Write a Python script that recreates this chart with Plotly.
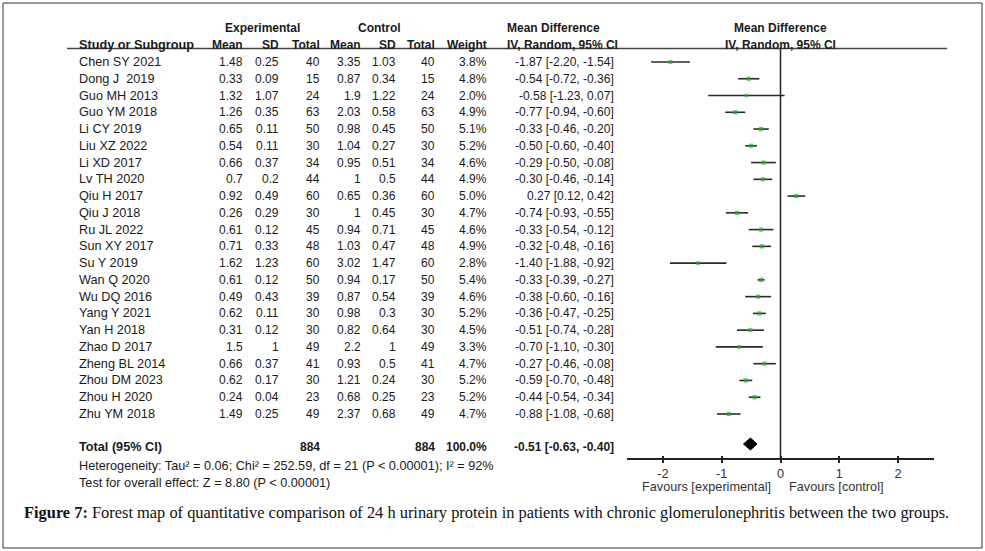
import plotly.graph_objects as go

# ---------------- data ----------------
studies = ["Chen SY 2021", "Dong J  2019", "Guo MH 2013", "Guo YM 2018", "Li CY 2019",
           "Liu XZ 2022", "Li XD 2017", "Lv TH 2020", "Qiu H 2017", "Qiu J 2018",
           "Ru JL 2022", "Sun XY 2017", "Su Y 2019", "Wan Q 2020", "Wu DQ 2016",
           "Yang Y 2021", "Yan H 2018", "Zhao D 2017", "Zheng BL 2014", "Zhou DM 2023",
           "Zhou H 2020", "Zhu YM 2018"]
exp_mean = [1.48, 0.33, 1.32, 1.26, 0.65, 0.54, 0.66, 0.7, 0.92, 0.26, 0.61, 0.71, 1.62,
            0.61, 0.49, 0.62, 0.31, 1.5, 0.66, 0.62, 0.24, 1.49]
exp_sd = [0.25, 0.09, 1.07, 0.35, 0.11, 0.11, 0.37, 0.2, 0.49, 0.29, 0.12, 0.33, 1.23,
          0.12, 0.43, 0.11, 0.12, 1, 0.37, 0.17, 0.04, 0.25]
exp_n = [40, 15, 24, 63, 50, 30, 34, 44, 60, 30, 45, 48, 60, 50, 39, 30, 30, 49, 41, 30, 23, 49]
ctrl_mean = [3.35, 0.87, 1.9, 2.03, 0.98, 1.04, 0.95, 1, 0.65, 1, 0.94, 1.03, 3.02,
             0.94, 0.87, 0.98, 0.82, 2.2, 0.93, 1.21, 0.68, 2.37]
ctrl_sd = [1.03, 0.34, 1.22, 0.58, 0.45, 0.27, 0.51, 0.5, 0.36, 0.45, 0.71, 0.47, 1.47,
           0.17, 0.54, 0.3, 0.64, 1, 0.5, 0.24, 0.25, 0.68]
ctrl_n = [40, 15, 24, 63, 50, 30, 34, 44, 60, 30, 45, 48, 60, 50, 39, 30, 30, 49, 41, 30, 23, 49]
weight = [3.8, 4.8, 2.0, 4.9, 5.1, 5.2, 4.6, 4.9, 5.0, 4.7, 4.6, 4.9, 2.8, 5.4, 4.6, 5.2,
          4.5, 3.3, 4.7, 5.2, 5.2, 4.7]
md = [-1.87, -0.54, -0.58, -0.77, -0.33, -0.50, -0.29, -0.30, 0.27, -0.74, -0.33, -0.32,
      -1.40, -0.33, -0.38, -0.36, -0.51, -0.70, -0.27, -0.59, -0.44, -0.88]
ci_lo = [-2.20, -0.72, -1.23, -0.94, -0.46, -0.60, -0.50, -0.46, 0.12, -0.93, -0.54, -0.48,
         -1.88, -0.39, -0.60, -0.47, -0.74, -1.10, -0.46, -0.70, -0.54, -1.08]
ci_hi = [-1.54, -0.36, 0.07, -0.60, -0.20, -0.40, -0.08, -0.14, 0.42, -0.55, -0.12, -0.16,
         -0.92, -0.27, -0.16, -0.25, -0.28, -0.30, -0.08, -0.48, -0.34, -0.68]
total_exp_n = 884
total_ctrl_n = 884
total_weight = 100.0
total_md, total_lo, total_hi = -0.51, -0.63, -0.40
heterogeneity = "Heterogeneity: Tau² = 0.06; Chi² = 252.59, df = 21 (P < 0.00001); I² = 92%"
overall = "Test for overall effect: Z = 8.80 (P < 0.00001)"
tick_vals = [-2, -1, 0, 1, 2]
tick_text = ["-2", "-1", "0", "1", "2"]
caption_bold = "Figure 7:"
caption_rest = (" Forest map of quantitative comparison of 24 h urinary protein in patients "
                "with chronic glomerulonephritis between the two groups.")

# ---------------- layout helpers ----------------
W, H = 985, 551
ROW0, ROWH = 62.0, 16.76          # pixel of first row, row height


def px_x(p):
    return p / W


def px_y(p):
    return 1 - p / H


def row_of(p):
    return (p - ROW0) / ROWH


FONT = "Liberation Sans, Arial, sans-serif"
TXT = "#1a1a1a"
FS = 12
FS_L = 12.7

fig = go.Figure()

n = len(studies)
rows = list(range(n))

# CI lines
lx, ly = [], []
for i in rows:
    lx += [ci_lo[i], ci_hi[i], None]
    ly += [i, i, None]
fig.add_trace(go.Scatter(x=lx, y=ly, mode="lines", line=dict(color="#2a2a2a", width=1.6),
                         hoverinfo="skip", showlegend=False))
# study squares
fig.add_trace(go.Scatter(x=md, y=rows, mode="markers",
                         marker=dict(symbol="square", size=[3 + w * 0.25 for w in weight],
                                     color="#1fb02a", line=dict(width=0)),
                         hoverinfo="skip", showlegend=False))
# total diamond
trow = row_of(444)
dh = 0.36
fig.add_trace(go.Scatter(x=[total_lo, total_md, total_hi, total_md, total_lo],
                         y=[trow, trow - dh, trow, trow + dh, trow],
                         mode="lines", fill="toself", fillcolor="black",
                         line=dict(color="black", width=1), hoverinfo="skip", showlegend=False))
# invisible trace on overlay axis (for crossing tick marks)
fig.add_trace(go.Scatter(x=[0], y=[0], xaxis="x2", mode="markers", marker=dict(opacity=0),
                         hoverinfo="skip", showlegend=False))

ann = []


def add_text(x, y, text, anchor="left", bold=False, size=FS, xref="paper", yref="y", color=TXT,
             family=FONT):
    ann.append(dict(x=x, y=y, xref=xref, yref=yref, text=f"<b>{text}</b>" if bold else text,
                    showarrow=False, xanchor=anchor, yanchor="middle",
                    font=dict(family=family, size=size, color=color)))


# headers
hy1 = row_of(28)
hy2 = row_of(45)
add_text(px_x(262), hy1, "Experimental", "center", True)
add_text(px_x(379), hy1, "Control", "center", True)
add_text(px_x(505), hy1, "Mean Difference", "left", True)
add_text(0, hy1, "Mean Difference", "center", True, xref="x")
add_text(px_x(77), hy2, "Study or Subgroup", "left", True, size=FS_L)
col_right = {"m1": 245, "s1": 281, "n1": 322, "m2": 363, "s2": 398, "n2": 437, "w": 489, "ci": 616}
add_text(px_x(col_right["m1"]), hy2, "Mean", "right", True)
add_text(px_x(col_right["s1"]), hy2, "SD", "right", True)
add_text(px_x(col_right["n1"]), hy2, "Total", "right", True)
add_text(px_x(col_right["m2"]), hy2, "Mean", "right", True)
add_text(px_x(col_right["s2"]), hy2, "SD", "right", True)
add_text(px_x(col_right["n2"]), hy2, "Total", "right", True)
add_text(px_x(col_right["w"]), hy2, "Weight", "right", True)
add_text(px_x(505), hy2, "IV, Random, 95% CI", "left", True)
add_text(0, hy2, "IV, Random, 95% CI", "center", True, xref="x")


def g(v):
    return f"{v:g}"


for i in rows:
    add_text(px_x(77), i, studies[i].replace("  ", "&nbsp; "), "left", size=FS_L)
    add_text(px_x(col_right["m1"]), i, g(exp_mean[i]), "right")
    add_text(px_x(col_right["s1"]), i, g(exp_sd[i]), "right")
    add_text(px_x(col_right["n1"]), i, str(exp_n[i]), "right")
    add_text(px_x(col_right["m2"]), i, g(ctrl_mean[i]), "right")
    add_text(px_x(col_right["s2"]), i, g(ctrl_sd[i]), "right")
    add_text(px_x(col_right["n2"]), i, str(ctrl_n[i]), "right")
    add_text(px_x(col_right["w"]), i, f"{weight[i]:.1f}%", "right")
    add_text(px_x(col_right["ci"]), i, f"{md[i]:.2f} [{ci_lo[i]:.2f}, {ci_hi[i]:.2f}]", "right")

ty = row_of(447)
add_text(px_x(77), ty, "Total (95% CI)", "left", True, size=FS_L)
add_text(px_x(col_right["n1"]), ty, str(total_exp_n), "right", True)
add_text(px_x(col_right["n2"]), ty, str(total_ctrl_n), "right", True)
add_text(px_x(col_right["w"]), ty, f"{total_weight:.1f}%", "right", True)
add_text(px_x(col_right["ci"]), ty, f"{total_md:.2f} [{total_lo:.2f}, {total_hi:.2f}]", "right", True)
add_text(px_x(77), row_of(466), heterogeneity, "left", size=FS_L)
add_text(px_x(77), row_of(483), overall, "left", size=FS_L)

# favours labels
add_text(-0.12, row_of(487), "Favours [experimental]", "right", xref="x", color="#333", size=FS_L)
add_text(0.11, row_of(487), "Favours [control]", "left", xref="x", color="#333", size=FS_L)

# caption
ann.append(dict(x=px_x(22), y=px_y(512), xref="paper", yref="paper", showarrow=False,
                xanchor="left", yanchor="middle",
                text=f"<b>{caption_bold}</b>{caption_rest}",
                font=dict(family="Liberation Serif, Times New Roman, serif", size=16.4, color="#111")))

axis_pos = px_y(459)
shapes = [
    # frame
    dict(type="rect", xref="paper", yref="paper", x0=px_x(3), x1=px_x(982), y0=px_y(548), y1=px_y(3),
         line=dict(color="#333", width=1)),
    # header underline
    dict(type="line", xref="paper", yref="paper", x0=px_x(67), x1=px_x(947), y0=px_y(48.5), y1=px_y(48.5),
         line=dict(color="#444", width=1.5)),
    # line of no effect
    dict(type="line", xref="x", yref="paper", x0=0, x1=0, y0=axis_pos, y1=px_y(49),
         line=dict(color="#222", width=1.5)),
]

xr = [-2.61, 2.61]
fig.update_layout(
    width=W, height=H, margin=dict(l=0, r=0, t=0, b=0),
    paper_bgcolor="white", plot_bgcolor="rgba(0,0,0,0)",
    showlegend=False, annotations=ann, shapes=shapes,
    xaxis=dict(domain=[px_x(627), px_x(934)], range=xr, anchor="free", position=axis_pos,
               showline=True, linecolor="#222", linewidth=1.5, showgrid=False, zeroline=False,
               tickvals=tick_vals, ticktext=tick_text, ticks="outside", ticklen=3, tickwidth=1.5,
               tickcolor="#222", tickfont=dict(family=FONT, size=FS_L, color="#333"), fixedrange=True),
    xaxis2=dict(domain=[px_x(627), px_x(934)], range=xr, anchor="free", position=axis_pos,
                overlaying="x", showline=False, showgrid=False, zeroline=False,
                tickvals=tick_vals, ticks="inside", ticklen=3, tickwidth=1.5, tickcolor="#222",
                showticklabels=False, fixedrange=True),
    yaxis=dict(domain=[0, 1], range=[row_of(H), row_of(0)], visible=False, fixedrange=True),
)

fig.write_html("out.html", config={"displayModeBar": False},
               post_script="document.body.style.margin='0';document.body.style.overflow='hidden';")
